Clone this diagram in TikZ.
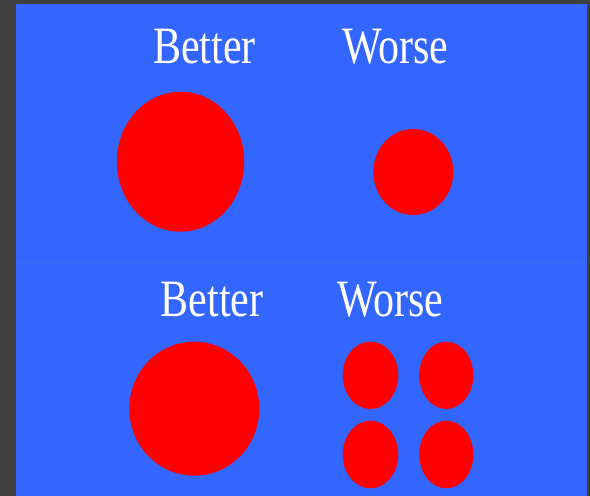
\documentclass[tikz,border=0pt]{standalone}
\usepackage{fontspec}
\setmainfont{Liberation Serif}
\definecolor{frame}{HTML}{404040}
\definecolor{bg}{HTML}{3366FF}
\definecolor{seam}{HTML}{3F6CF2}
\definecolor{dot}{HTML}{FF0000}
\begin{document}
\begin{tikzpicture}[x=1pt,y=-1pt,
  lbl/.style={anchor=base west,inner sep=0pt,text=white,yscale=1.25,font=\fontsize{42}{42}\selectfont},
  blob/.style={fill=dot}]
\useasboundingbox (0,0) rectangle (590,496);
\fill[frame] (0,0) rectangle (590,496);
\fill[bg] (16,4) rectangle (587,496);
\draw[seam,line width=1pt] (16,262) -- (587,262);
% top row
\node[lbl] (b1) at (153,63) {Better};
\node[lbl] (w1) at (342,63) {Worse};
\fill[blob] (180.5,161.7) ellipse [x radius=63.7, y radius=70];
\fill[blob] (413.3,172) ellipse [x radius=40, y radius=43];
% bottom row
\node[lbl] (b2) at (160.5,316.7) {Better};
\node[lbl] (w2) at (337,316.7) {Worse};
\fill[blob] (194.3,408.7) ellipse [x radius=65, y radius=67];
\fill[blob] (370.5,375.3) ellipse [x radius=27.8, y radius=33.7];
\fill[blob] (446.3,375.3) ellipse [x radius=27, y radius=33.7];
\fill[blob] (370.5,454.5) ellipse [x radius=27.8, y radius=33.8];
\fill[blob] (446.3,454.5) ellipse [x radius=27, y radius=33.8];
\end{tikzpicture}
\end{document}
